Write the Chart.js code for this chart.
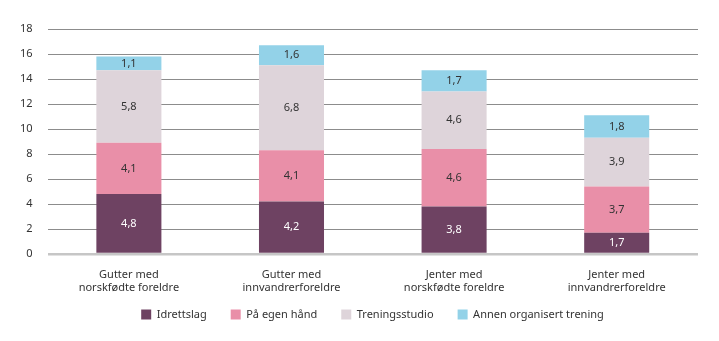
<!DOCTYPE html>
<html>
<head>
<meta charset="utf-8">
<script src="https://cdn.jsdelivr.net/npm/chart.js@4"></script>
<style>
  html, body { margin: 0; padding: 0; background: #fff; }
  #wrap { width: 719px; height: 341px; position: relative; }
</style>
</head>
<body>
<div id="wrap"><canvas id="myChart"></canvas></div>
<script>
// data
let categories = [
    ['Gutter med', 'norskfødte foreldre'],
    ['Gutter med', 'innvandrerforeldre'],
    ['Jenter med', 'norskfødte foreldre'],
    ['Jenter med', 'innvandrerforeldre']
]
let idrettslag = [4.8, 4.2, 3.8, 1.7]
let egenHaand = [4.1, 4.1, 4.6, 3.7]
let treningsstudio = [5.8, 6.8, 4.6, 3.9]
let annenTrening = [1.1, 1.6, 1.7, 1.8]
let yTicks = [0, 2, 4, 6, 8, 10, 12, 14, 16, 18]

let fontFamily = "'Noto Sans', 'Open Sans', sans-serif"

// draw the value inside each segment
let valueLabels = {
    id: 'valueLabels',
    afterDatasetsDraw(chart) {
        let ctx = chart.ctx
        ctx.save()
        ctx.font = '11px ' + fontFamily
        ctx.textAlign = 'center'
        ctx.textBaseline = 'middle'
        chart.data.datasets.forEach((ds, i) => {
            let meta = chart.getDatasetMeta(i)
            meta.data.forEach((bar, j) => {
                let v = ds.data[j]
                ctx.fillStyle = i === 0 ? '#ffffff' : '#333333'
                let y = (bar.y + bar.base) / 2
                ctx.fillText(v.toFixed(1).replace('.', ','), bar.x, y)
            })
        })
        ctx.restore()
    }
}

// nudge the legend: up closer to the axis labels, centred under the plot
let legendNudge = {
    id: 'legendNudge',
    afterLayout(chart) {
        let lg = chart.legend
        lg.top -= 11
        lg.bottom -= 11
        lg.left += 21
        lg.right += 21
    }
}

new Chart('myChart', {
    type: 'bar',
    data: {
        labels: categories,
        datasets: [{
            label: 'Idrettslag',
            data: idrettslag,
            backgroundColor: '#6e4262'
        }, {
            label: 'På egen hånd',
            data: egenHaand,
            backgroundColor: '#e98fa8'
        }, {
            label: 'Treningsstudio',
            data: treningsstudio,
            backgroundColor: '#ded4da'
        }, {
            label: 'Annen organisert trening',
            data: annenTrening,
            backgroundColor: '#93d2e8'
        }]
    },
    options: {
        responsive: true,
        maintainAspectRatio: false,
        animation: false,
        categoryPercentage: 1,
        barPercentage: 0.4,
        layout: { padding: { top: 29, right: 21, bottom: 0, left: 5 } },
        plugins: {
            tooltip: { enabled: false },
            legend: {
                position: 'bottom',
                labels: {
                    boxWidth: 10,
                    boxHeight: 10,
                    padding: 24,
                    color: '#333',
                    font: { family: fontFamily, size: 11 }
                }
            }
        },
        scales: {
            x: {
                stacked: true,
                grid: { display: false, drawTicks: false },
                border: { display: false },
                ticks: {
                    color: '#333',
                    padding: 14,
                    font: { family: fontFamily, size: 11, lineHeight: 1.2 }
                },
                afterFit: (axis) => { axis.height = 42 }
            },
            y: {
                stacked: true,
                min: 0,
                max: 18,
                afterBuildTicks: (axis) => { axis.ticks = yTicks.map(v => ({ value: v })) },
                border: { display: false },
                grid: {
                    drawTicks: false,
                    color: (c) => c.tick && c.tick.value === 0 ? '#c6c6c6' : '#8c8c8c',
                    lineWidth: (c) => c.tick && c.tick.value === 0 ? 2.5 : 1
                },
                ticks: {
                    color: '#333',
                    padding: 15,
                    font: { family: fontFamily, size: 11 }
                }
            }
        }
    },
    plugins: [valueLabels, legendNudge]
})
</script>
</body>
</html>
